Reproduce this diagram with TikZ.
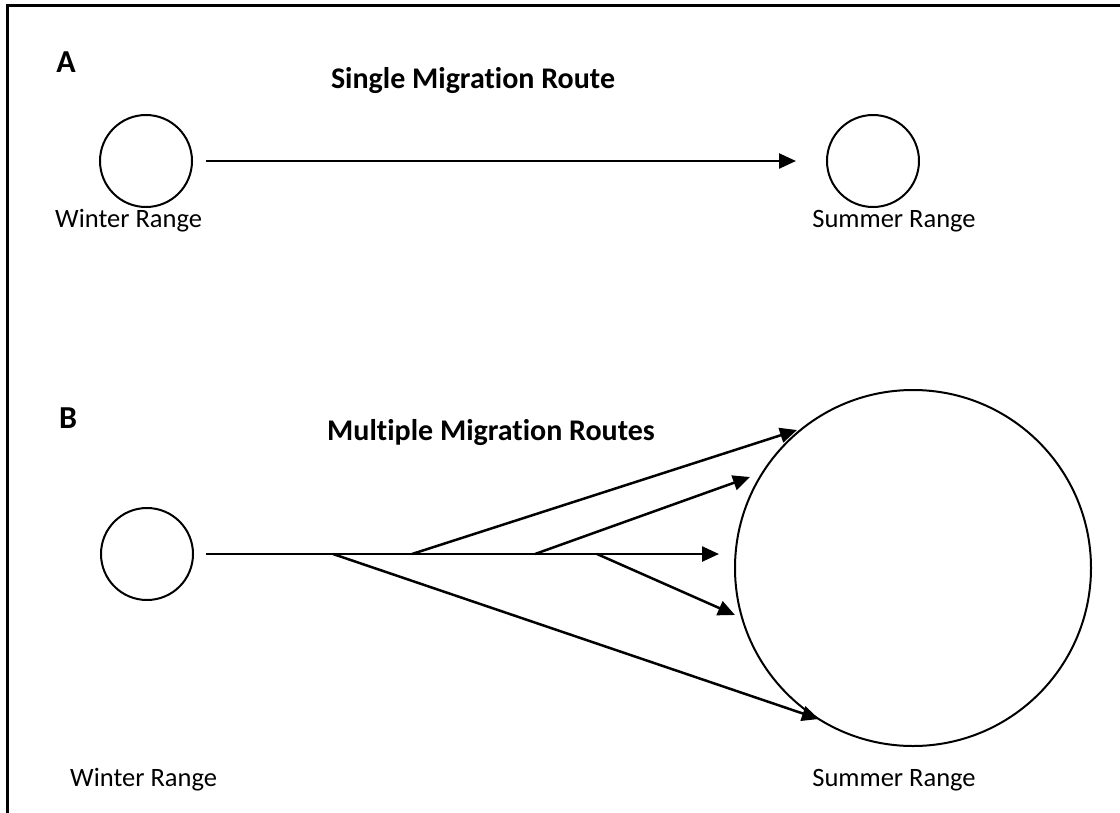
\documentclass[tikz,border=0pt]{standalone}
\usepackage{fontspec}
\setmainfont{Carlito}[Ligatures=NoCommon]
\usetikzlibrary{arrows.meta}
\begin{document}
\begin{tikzpicture}[x=1pt,y=-1pt,
  rangecirc/.style={circle,draw,line width=2pt,minimum size=92pt,inner sep=0pt},
  route/.style={line width=2.5pt,-{Triangle[length=17pt,width=15pt]}},
  lbl/.style={font=\fontsize{26.5}{32}\selectfont,inner sep=0pt},
  ttl/.style={font=\fontsize{30}{36}\selectfont\bfseries,inner sep=0pt},
  pnl/.style={font=\fontsize{32}{38}\selectfont\bfseries,inner sep=0pt}]
\useasboundingbox (0,0) rectangle (1120,812);
\draw[line width=3pt] (7,830) -- (7,5) -- (1130,5);
% Panel A
\node[pnl,anchor=base] (A) at (66,72) {A};
\node[ttl,anchor=base] (t1) at (473,88) {Single Migration Route};
\node[rangecirc] (wA) at (146,161) {};
\node[rangecirc] (sA) at (873,161) {};
\node[lbl,anchor=base west] (wlA) at (55,227) {Winter Range};
\node[lbl,anchor=base] (slA) at (894,227) {Summer Range};
\draw[route,shorten <=13pt,shorten >=30pt] (wA) -- (sA);
% Panel B
\node[pnl,anchor=base] (B) at (68,428) {B};
\node[ttl,anchor=base] (t2) at (491,440) {Multiple Migration Routes};
\node[rangecirc] (wB) at (147,554) {};
\node[rangecirc,minimum size=356pt] (sB) at (913,568) {};
\coordinate (j1) at (333,554);
\coordinate (j2) at (412,554);
\coordinate (j3) at (535,554);
\coordinate (j4) at (597,554);
\coordinate (e0) at (719,554);
\coordinate (e1) at (797,430);
\coordinate (e2) at (750,477);
\coordinate (e3) at (735,615);
\coordinate (e4) at (819,719);
\draw[route,shorten <=12pt] (wB) -- (e0);
\draw[route] (j2) -- (e1);
\draw[route] (j3) -- (e2);
\draw[route] (j4) -- (e3);
\draw[route] (j1) -- (e4);
\node[lbl,anchor=base west] (wlB) at (70,786) {Winter Range};
\node[lbl,anchor=base] (slB) at (894,786) {Summer Range};
\end{tikzpicture}
\end{document}
